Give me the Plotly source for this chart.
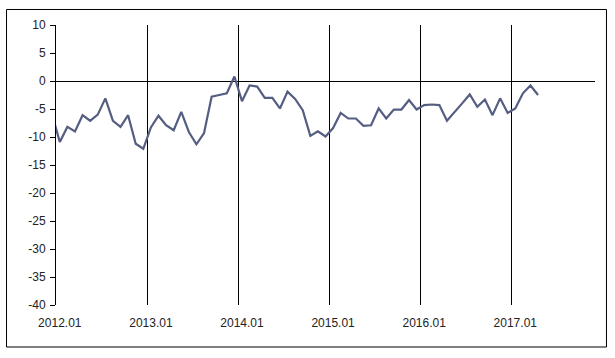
import plotly.graph_objects as go

# Monthly categories on the axis: 2011.12 (partly hidden, clipped by the axis) .. 2017.11
axis_categories = ["2011.12"] + [f"{y}.{m:02d}" for y in range(2012, 2018) for m in range(1, 13)][:71]

# Series values (2011.12 .. 2017.04)
months = axis_categories[:65]
values = [
    -6.0,                                                              # 2011.12 (clipped)
    -10.9, -8.2, -9.0, -6.1, -7.1, -6.0, -3.1, -7.1, -8.2, -6.1, -11.2, -12.1,   # 2012
    -8.3, -6.2, -7.9, -8.8, -5.5, -9.1, -11.3, -9.3, -2.8, -2.5, -2.2, 0.8,      # 2013
    -3.6, -0.8, -1.0, -3.0, -3.0, -4.9, -1.9, -3.2, -5.2, -9.8, -9.0, -9.9,      # 2014
    -8.4, -5.7, -6.7, -6.7, -8.0, -7.9, -4.9, -6.7, -5.1, -5.1, -3.4, -5.1,      # 2015
    -4.3, -4.2, -4.3, -7.1, -5.6, -4.0, -2.4, -4.6, -3.3, -6.1, -3.1, -5.7,      # 2016
    -4.9, -2.2, -0.8, -2.5,                                                      # 2017
]

x_tick_labels = ["2012.01", "2013.01", "2014.01", "2015.01", "2016.01", "2017.01"]
y_ticks = [10, 5, 0, -5, -10, -15, -20, -25, -30, -35, -40]

FONT = "Liberation Sans, Arial, sans-serif"
TXT = "#222222"

# position of each month on the category axis (2012.01 -> 0)
pos = {c: i - 1 for i, c in enumerate(axis_categories)}
x_vals = [pos[m] for m in months]
label_pos = [pos[t] for t in x_tick_labels]
boundary_pos = [p - 0.5 for p in label_pos]   # Excel draws gridlines between categories
x_range = [-0.5, pos[axis_categories[-1]] + 0.5]

fig = go.Figure()
fig.add_trace(go.Scatter(
    x=x_vals, y=values, mode="lines",
    line=dict(color="#555E82", width=2.2),
    customdata=months, hovertemplate="%{customdata}: %{y}<extra></extra>",
    showlegend=False,
))

fig.update_layout(
    width=615, height=358,
    margin=dict(l=56, r=20, t=25, b=53),
    paper_bgcolor="white", plot_bgcolor="white",
    font=dict(family=FONT, size=12, color=TXT),
    xaxis=dict(
        range=x_range, automargin=False,
        tickmode="array", tickvals=label_pos, ticktext=x_tick_labels, tickangle=0,
        showgrid=False, showline=False, zeroline=False, ticks="",
        ticklabelstandoff=9,
        tickfont=dict(family=FONT, size=12, color=TXT),
        minor=dict(
            tickmode="array", tickvals=boundary_pos,
            showgrid=True, gridcolor="black", gridwidth=1, ticks="",
        ),
    ),
    yaxis=dict(
        range=[-40, 10], automargin=False,
        tickmode="array", tickvals=y_ticks, ticktext=[str(v) for v in y_ticks],
        showgrid=False,
        zeroline=True, zerolinecolor="black", zerolinewidth=1,
        showline=True, linecolor="black", linewidth=1,
        ticks="outside", ticklen=5, tickcolor="black", tickwidth=1,
        ticklabelstandoff=2,
        tickfont=dict(family=FONT, size=12, color=TXT),
    ),
    shapes=[dict(
        type="rect", xref="paper", yref="paper",
        x0=-0.0918, x1=1.0213, y0=-0.15, y1=1.0554,
        line=dict(color="black", width=1), fillcolor="rgba(0,0,0,0)", layer="below",
    )],
)

fig.write_html(
    "out.html",
    config={"displayModeBar": False},
    post_script="document.body.style.margin='0';document.body.style.padding='0';",
)
